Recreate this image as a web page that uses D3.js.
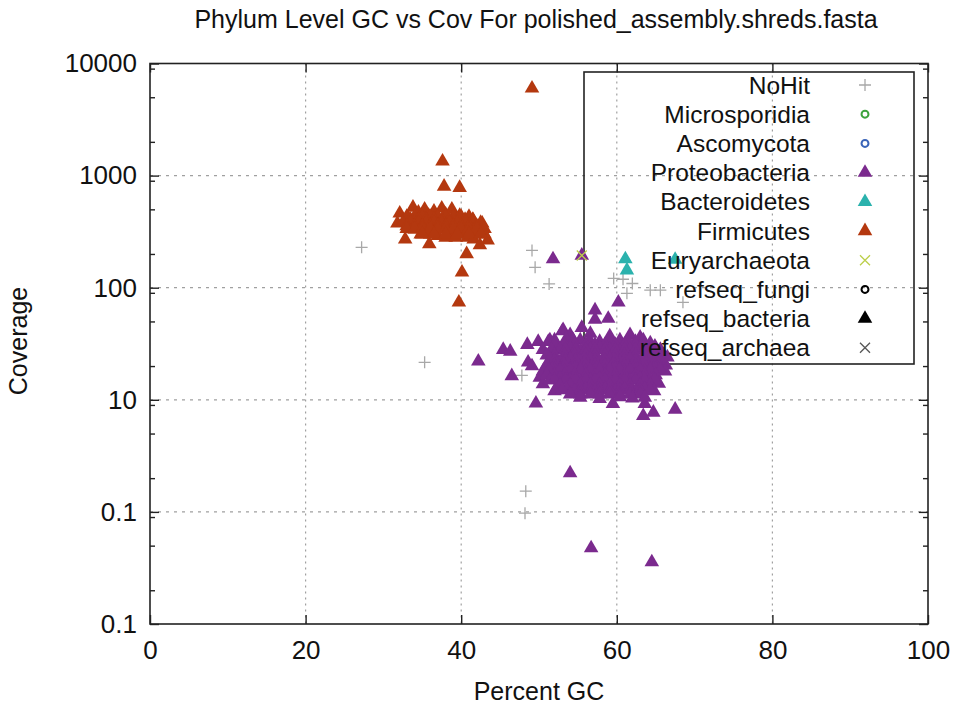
<!DOCTYPE html>
<html>
<head>
<meta charset="utf-8">
<script src="https://cdn.jsdelivr.net/npm/d3@7"></script>
<style>
  html, body { margin: 0; padding: 0; background: #fff; }
  svg { display: block; font-family: "Liberation Sans", Arial, sans-serif; }
</style>
</head>
<body>
<svg id="chart" width="955" height="708"></svg>
<script>
// ---------------- DATA ----------------
const titleText = "Phylum Level GC vs Cov For polished_assembly.shreds.fasta";
const xLabel = "Percent GC";
const yLabel = "Coverage";
const xTicks = [0, 20, 40, 60, 80, 100];
const yTicks = [10000, 1000, 100, 10, 1, 0.1];
const yTickLabels = ["10000", "1000", "100", "10", "0.1", "0.1"];
const yMinorTicks = [0.2, 0.5, 0.9, 2, 5, 9, 20, 50, 90, 200, 500, 900, 2000, 5000, 9000];

const categories = ["NoHit", "Microsporidia", "Ascomycota", "Proteobacteria", "Bacteroidetes",
  "Firmicutes", "Euryarchaeota", "refseq_fungi", "refseq_bacteria", "refseq_archaea"];
const colors = ["#a8a8a8", "#3da33d", "#3a64b8", "#7b2a8e", "#2bb2ad",
  "#b4380f", "#bccf4a", "#000000", "#000000", "#555555"];
const shapes = ["plus", "circle", "circle", "triangle", "triangle",
  "triangle", "x", "circle", "triangle", "x"];

// [percent GC, coverage]
const noHit = [[27.2, 229], [35.3, 21.6], [49.1, 215], [49.5, 152], [51.3, 108],
  [51.7, 24], [47.8, 16.5], [48.3, 1.53], [48.2, 0.975],
  [59.6, 121], [60.8, 119], [62.0, 109], [61.3, 89], [64.3, 95], [65.6, 95], [68.5, 74]];
const microsporidia = [];
const ascomycota = [];
const proteobacteria = [
  [51.8, 180], [55.5, 194], [60.2, 74], [57.2, 63], [57.2, 52], [58.9, 53], [55.5, 44], [53.1, 42],
  [54.0, 2.22], [56.7, 0.475], [64.5, 0.357],
  [59.5, 9.2], [63.6, 9.2], [64.7, 7.7], [67.5, 8.2], [63.4, 7.2],
  [48.5, 31], [49.9, 33], [51.2, 33], [53.0, 41], [48.6, 21.6], [49.1, 20], [50.1, 15.8],
  [50.5, 13.8], [52.3, 12.9], [49.6, 9.3], [45.4, 28], [46.3, 27], [42.2, 22], [46.5, 16.3],
  [54.0, 38], [56.6, 39], [59.1, 37], [61.7, 38], [63.0, 36],
  [51.4, 34], [53.5, 35], [55.3, 34], [57.8, 33], [60.4, 34], [62.4, 33], [64.3, 32],
  [52.0, 34], [54.4, 34], [56.5, 34], [59.0, 34], [61.4, 34], [63.4, 34],
  [52.0, 31], [53.3, 31], [54.6, 31], [56.0, 31], [57.2, 31], [58.5, 31], [59.8, 31],
  [61.0, 31], [62.4, 31], [63.6, 31], [64.9, 30],
  [50.5, 28], [52.7, 28], [54.0, 29], [55.3, 27], [56.6, 28], [57.8, 29], [59.1, 28],
  [60.4, 27], [61.7, 28], [63.0, 29], [64.3, 27], [65.6, 28],
  [51.6, 28], [53.4, 28], [54.7, 28], [56.0, 28], [57.2, 28], [58.5, 28], [59.8, 28],
  [61.0, 28], [62.4, 28], [63.6, 28], [65.0, 28],
  [51.0, 25], [52.0, 25], [53.3, 25], [54.6, 25], [56.0, 25], [57.2, 25], [58.5, 25],
  [59.8, 25], [61.0, 25], [62.4, 25], [63.6, 25], [65.0, 25], [66.0, 25],
  [51.4, 23], [52.7, 22], [54.0, 23], [55.3, 22], [56.6, 23], [57.8, 22], [59.1, 23],
  [60.4, 22], [61.7, 23], [63.0, 22], [64.3, 23], [65.6, 22], [66.5, 24],
  [52.0, 22.5], [53.4, 22.5], [54.7, 22.5], [56.0, 22.5], [57.2, 22.5], [58.5, 22.5], [59.8, 22.5],
  [61.0, 22.5], [62.4, 22.5], [63.6, 22.5], [65.0, 22.5],
  [51.0, 20.3], [52.0, 20.3], [53.3, 20.3], [54.6, 20.3], [56.0, 20.3], [57.2, 20.3], [58.5, 20.3],
  [59.8, 20.3], [61.0, 20.3], [62.4, 20.3], [63.6, 20.3], [65.0, 20.3], [66.3, 20.3],
  [50.5, 18], [52.0, 18.5], [53.3, 18], [54.6, 19], [56.0, 18], [57.2, 18.5], [58.5, 18],
  [59.8, 19], [61.0, 18], [62.4, 18.5], [63.6, 18], [65.0, 19], [66.2, 18],
  [51.3, 18.4], [52.7, 18.4], [54.0, 18.4], [55.3, 18.4], [56.6, 18.4], [57.8, 18.4], [59.1, 18.4],
  [60.4, 18.4], [61.7, 18.4], [63.0, 18.4], [64.3, 18.4], [65.6, 18.4],
  [51.0, 16.6], [52.0, 16.6], [53.3, 16.6], [54.6, 16.6], [56.0, 16.6], [57.2, 16.6], [58.5, 16.6],
  [59.8, 16.6], [61.0, 16.6], [62.4, 16.6], [63.6, 16.6], [65.0, 16.6],
  [51.4, 15], [52.7, 15.5], [54.0, 15], [55.3, 14.5], [56.6, 15], [57.8, 15.5], [59.1, 15],
  [60.4, 14.5], [61.7, 15], [63.0, 15.5], [64.3, 15], [65.4, 14],
  [52.0, 15], [53.4, 15], [54.7, 15], [56.0, 15], [57.2, 15], [58.5, 15], [59.8, 15],
  [61.0, 15], [62.4, 15], [63.6, 15], [64.9, 15],
  [52.7, 13.5], [54.0, 13.5], [55.3, 13.5], [56.6, 13.5], [57.8, 13.5], [59.1, 13.5], [60.4, 13.5],
  [61.7, 13.5], [63.0, 13.5], [64.3, 13.5],
  [52.0, 12], [53.5, 12.5], [54.6, 12], [56.0, 12.5], [57.2, 12], [58.5, 12.5], [59.8, 12],
  [61.0, 12.5], [62.4, 12], [63.6, 12.5], [64.8, 12],
  [53.0, 12.2], [55.3, 12.2], [56.6, 12.2], [57.8, 12.2], [59.1, 12.2], [60.4, 12.2], [61.7, 12.2],
  [63.0, 12.2], [64.3, 12.2],
  [54.0, 11.2], [55.3, 11.2], [56.6, 11.2], [57.8, 11.2], [59.1, 11.2], [60.4, 11.2], [61.7, 11.2],
  [63.0, 11.2],
  [55.3, 10.5], [57.8, 10.2], [60.4, 10.6], [62.0, 10.3], [63.6, 10.5]];
const bacteroidetes = [[61.1, 180], [61.3, 143], [67.5, 178]];
const firmicutes = [
  [49.1, 6000], [37.6, 1340], [37.8, 800], [39.8, 780], [32.8, 270], [35.9, 245], [40.7, 200],
  [40.1, 137], [39.7, 74],
  [32.1, 460], [31.8, 375], [33.2, 420], [33.8, 520], [34.5, 470], [35.0, 400], [35.3, 500],
  [35.8, 440], [36.2, 360], [36.5, 480], [37.0, 420], [37.2, 330], [37.5, 510], [37.8, 390],
  [38.0, 450], [38.3, 350], [38.5, 300], [38.8, 500], [39.0, 420], [39.2, 370], [39.5, 320],
  [39.8, 440], [40.0, 300], [40.2, 390], [40.5, 330], [40.8, 280], [41.0, 350], [41.3, 300],
  [41.6, 270], [42.0, 320], [42.4, 240], [42.7, 375], [43.0, 300], [43.4, 265], [36.0, 300],
  [34.0, 330], [33.5, 360], [34.8, 300], [37.0, 290], [38.0, 280], [36.8, 380], [39.3, 280],
  [35.5, 330], [41.5, 400], [42.2, 330],
  [33.0, 430], [34.0, 430], [35.0, 430], [36.0, 430], [37.0, 430], [38.0, 430], [39.0, 430],
  [40.0, 430], [41.0, 430],
  [33.5, 405], [34.5, 405], [35.5, 405], [36.5, 405], [37.5, 405], [38.5, 405], [39.5, 405],
  [40.5, 405], [41.5, 405],
  [32.5, 380], [33.5, 380], [34.5, 380], [35.5, 380], [36.5, 380], [37.5, 380], [38.5, 380],
  [39.5, 380], [40.5, 380], [41.5, 380], [42.5, 380],
  [33.0, 355], [34.0, 355], [35.0, 355], [36.0, 355], [37.0, 355], [38.0, 355], [39.0, 355],
  [40.0, 355], [41.0, 355], [42.0, 355],
  [33.0, 335], [34.0, 335], [35.0, 335], [36.0, 335], [37.0, 335], [38.0, 335], [39.0, 335],
  [40.0, 335], [41.0, 335], [42.0, 335], [43.0, 335],
  [35.0, 300], [36.5, 300], [38.0, 300], [39.5, 300], [41.0, 300], [42.5, 300]];
const euryarchaeota = [[55.5, 194]];
const refseqFungi = [];
const refseqBacteria = [];
const refseqArchaea = [];

const seriesData = [noHit, microsporidia, ascomycota, proteobacteria, bacteroidetes,
  firmicutes, euryarchaeota, refseqFungi, refseqBacteria, refseqArchaea];

// ---------------- DRAW ----------------
(function () {
const svg = d3.select("#chart");
const pLeft = 150, pRight = 928, pTop = 63.5, pBottom = 624;
const x = d3.scaleLinear().domain([0, 100]).range([pLeft, pRight]);
const y = d3.scaleLog().domain([0.1, 10000]).range([pBottom, pTop]);

function markerPath(shape) {
  if (shape === "triangle") return d3.symbol(d3.symbolTriangle, 92)();
  if (shape === "plus") return "M-6,0H6M0,-6V6";
  if (shape === "x") return "M-5,-5L5,5M-5,5L5,-5";
  return d3.symbol(d3.symbolCircle, 38)();
}
function styleMarker(sel, i) {
  const s = shapes[i];
  if (s === "triangle") sel.attr("fill", colors[i]).attr("stroke", "none");
  else if (s === "circle") sel.attr("fill", "none").attr("stroke", colors[i]).attr("stroke-width", 2);
  else sel.attr("fill", "none").attr("stroke", colors[i]).attr("stroke-width", 1.3);
}

// grid
const grid = svg.append("g").attr("stroke", "#a0a0a0").attr("stroke-width", 1.2);
grid.selectAll(".gx").data(xTicks.slice(1, -1)).enter().append("line")
  .attr("stroke-dasharray", "2,4")
  .attr("x1", d => x(d)).attr("x2", d => x(d)).attr("y1", pTop).attr("y2", pBottom);
grid.selectAll(".gy").data(yTicks.slice(1, -1)).enter().append("line")
  .attr("stroke-dasharray", "3,5")
  .attr("x1", pLeft).attr("x2", pRight).attr("y1", d => y(d)).attr("y2", d => y(d));

// legend box (under points)
const legX0 = 584, legY0 = 72, legX1 = 914, legY1 = 364;
svg.append("rect").attr("x", legX0).attr("y", legY0).attr("width", legX1 - legX0)
  .attr("height", legY1 - legY0).attr("fill", "none").attr("stroke", "#222").attr("stroke-width", 1.6);

// points
seriesData.forEach((data, i) => {
  const g = svg.append("g");
  const p = g.selectAll("path").data(data).enter().append("path")
    .attr("d", markerPath(shapes[i]))
    .attr("transform", d => `translate(${x(d[0])},${y(d[1])})`);
  styleMarker(p, i);
});

// legend text + symbols
const legRows = categories.map((c, i) => ({ c, i }));
const lg = svg.append("g");
lg.selectAll("text").data(legRows).enter().append("text")
  .attr("x", 810).attr("y", d => 85 + d.i * 29.2).attr("dy", "0.35em")
  .attr("text-anchor", "end").attr("font-size", 24.5).attr("fill", "#111")
  .text(d => d.c);
legRows.forEach(d => {
  const p = lg.append("path").attr("d", markerPath(shapes[d.i]))
    .attr("transform", `translate(865,${85 + d.i * 29.2})`);
  styleMarker(p, d.i);
});

// frame
svg.append("rect").attr("x", pLeft).attr("y", pTop).attr("width", pRight - pLeft)
  .attr("height", pBottom - pTop).attr("fill", "none").attr("stroke", "#222").attr("stroke-width", 1.6);

// axes
const xAxisB = d3.axisBottom(x).tickValues(xTicks).tickSize(-9).tickPadding(17).tickFormat(d3.format("d"));
const xAxisT = d3.axisTop(x).tickValues(xTicks).tickSize(-9).tickFormat("");
const yAxisL = d3.axisLeft(y).tickValues(yTicks).tickSize(-9).tickPadding(13)
  .tickFormat((d, i) => yTickLabels[i]);
const yAxisR = d3.axisRight(y).tickValues(yTicks).tickSize(-9).tickFormat("");
const yMinL = d3.axisLeft(y).tickValues(yMinorTicks).tickSize(-5).tickFormat("");
const yMinR = d3.axisRight(y).tickValues(yMinorTicks).tickSize(-5).tickFormat("");

function styleAxis(g) {
  g.select(".domain").remove();
  g.selectAll(".tick line").attr("stroke", "#222").attr("stroke-width", 1.4);
  g.selectAll(".tick text").attr("font-size", 26).attr("fill", "#111")
    .attr("font-family", "'Liberation Sans', Arial, sans-serif");
}
svg.append("g").attr("transform", `translate(0,${pBottom})`).call(xAxisB).call(styleAxis);
svg.append("g").attr("transform", `translate(0,${pTop})`).call(xAxisT).call(styleAxis);
svg.append("g").attr("transform", `translate(${pLeft},0)`).call(yAxisL).call(styleAxis);
svg.append("g").attr("transform", `translate(${pRight},0)`).call(yAxisR).call(styleAxis);
svg.append("g").attr("transform", `translate(${pLeft},0)`).call(yMinL).call(styleAxis);
svg.append("g").attr("transform", `translate(${pRight},0)`).call(yMinR).call(styleAxis);

// titles
svg.append("text").attr("x", 536).attr("y", 28).attr("text-anchor", "middle")
  .attr("font-size", 25).attr("fill", "#111").text(titleText);
svg.append("text").attr("x", 539).attr("y", 700).attr("text-anchor", "middle")
  .attr("font-size", 25).attr("fill", "#111").text(xLabel);
svg.append("text").attr("transform", "translate(27,341) rotate(-90)").attr("text-anchor", "middle")
  .attr("font-size", 25).attr("fill", "#111").text(yLabel);
})();
</script>
</body>
</html>
